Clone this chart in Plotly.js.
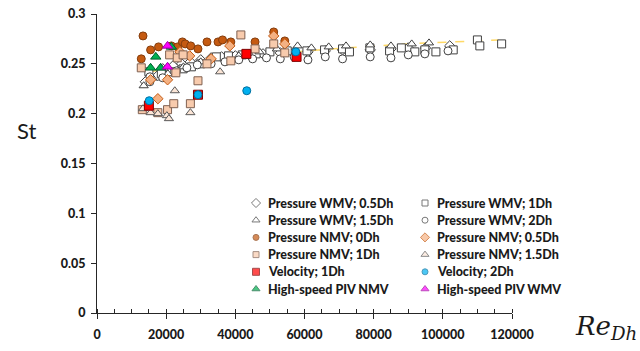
<!DOCTYPE html>
<html><head><meta charset="utf-8">
<script src="https://cdn.plot.ly/plotly-3.0.1.min.js"></script>
<style>html,body{margin:0;padding:0;background:#fff}#chart{width:640px;height:351px}</style>
</head><body><div id="chart"></div>
<script>
// ---- data ----
const wmv05Re = [14000,17500,19000,22000,24500,27000,30000,33000,36000,40000,44000,48000,53000,57000,61000,66000,71000,79000,85000,90000,95000,102000];
const wmv05St = [0.232,0.238,0.245,0.248,0.250,0.252,0.254,0.256,0.257,0.258,0.259,0.260,0.261,0.262,0.262,0.263,0.264,0.264,0.265,0.266,0.266,0.268];
const wmv1Re = [15000,18600,22500,24900,27300,30000,34500,38000,42000,46000,50000,55000,60700,65800,71000,73000,78900,84600,88000,91900,94800,98000,103000,110000,110700,117000];
const wmv1St = [0.242,0.240,0.242,0.245,0.247,0.250,0.257,0.258,0.259,0.260,0.262,0.263,0.263,0.264,0.265,0.262,0.266,0.263,0.266,0.262,0.264,0.262,0.264,0.274,0.268,0.270];
const wmv15Re = [13500,16000,20500,25000,30000,41000,47000,52000,58000,62000,67000,72000,79000,85000,91000,96000];
const wmv15St = [0.228,0.236,0.240,0.247,0.252,0.258,0.262,0.265,0.268,0.266,0.267,0.268,0.269,0.268,0.270,0.271];
const wmv2Re = [15300,15300,19000,23000,26000,29000,33000,37000,41000,45000,49000,53000,57000,61000,66000,71000,79000,85000,90000,94800,101500];
const wmv2St = [0.237,0.232,0.236,0.243,0.246,0.249,0.250,0.252,0.254,0.255,0.256,0.255,0.257,0.254,0.257,0.255,0.257,0.256,0.259,0.260,0.263];
const nmv0Re = [12800,13300,15500,17800,21500,23300,24700,25500,27100,29200,31800,35000,36300,38700,45700,51100,54300];
const nmv0St = [0.255,0.278,0.264,0.267,0.268,0.267,0.272,0.270,0.268,0.265,0.272,0.272,0.274,0.272,0.272,0.282,0.273];
const nmv05Re = [15500,20400,17600,26800,38400,51100,54300,24000,33000];
const nmv05St = [0.234,0.234,0.215,0.258,0.268,0.278,0.270,0.262,0.255];
const nmv1Re = [12800,13100,17600,20400,21000,22200,22800,23200,24900,27000,29200,31800,38700,41600,45700,51100,54300];
const nmv1St = [0.246,0.204,0.201,0.204,0.259,0.210,0.241,0.256,0.259,0.210,0.233,0.250,0.253,0.279,0.265,0.270,0.261];
const nmv15Re = [13300,15500,17600,20200,20800,22500,27000,35600];
const nmv15St = [0.205,0.201,0.200,0.198,0.195,0.223,0.201,0.242];
const vel1Re = [15000,29200,43200,57700];
const vel1St = [0.208,0.219,0.260,0.257];
const vel2Re = [15100,29200,43300,57500];
const vel2St = [0.213,0.219,0.223,0.262];
const pivNRe = [15500,17000,18400,21500];
const pivNSt = [0.246,0.257,0.246,0.267];
const pivWRe = [20400,20400];
const pivWSt = [0.268,0.247];
const fitRe = [15700,25000,40000,55000,64000,77000,90000,103000,116000];
const fitSt = [0.242,0.249,0.256,0.261,0.264,0.267,0.270,0.272,0.274];
const seriesNames = ['Pressure WMV; 0.5Dh','Pressure WMV; 1Dh','Pressure WMV; 1.5Dh','Pressure WMV; 2Dh',
  'Pressure NMV; 0Dh','Pressure NMV; 0.5Dh','Pressure NMV; 1Dh','Pressure NMV; 1.5Dh',
  'Velocity; 1Dh','Velocity; 2Dh','High-speed PIV NMV','High-speed PIV WMV'];
const xTicks = [0,20000,40000,60000,80000,100000,120000];
const xTickText = ['0','20000','40000','60000','80000','100000','120000'];
const yTicks = [0,0.05,0.1,0.15,0.2,0.25,0.3];
const yTickText = ['0','0.05','0.1','0.15','0.2','0.25','0.3'];

// ---- styles ----
const gray = '#404040';
const styles = [
  {symbol:'diamond', fill:'#ffffff', line:gray, size:8, lsize:7},
  {symbol:'square', fill:'#ffffff', line:gray, size:8, lsize:6},
  {symbol:'triangle-up', fill:'#ffffff', line:gray, size:8, lsize:7},
  {symbol:'circle', fill:'#ffffff', line:gray, size:8, lsize:6},
  {symbol:'circle', fill:'#c55a11', line:'#843c0c', size:8, lsize:6},
  {symbol:'diamond', fill:'#f4b183', line:'#c55a11', size:8, lsize:7},
  {symbol:'square', fill:'#f8cbad', line:'#7f6050', size:8, lsize:6},
  {symbol:'triangle-up', fill:'#fbe5d6', line:'#595959', size:8, lsize:7},
  {symbol:'square', fill:'#ff0000', line:'#7f0000', size:9, lsize:7},
  {symbol:'circle', fill:'#00b0f0', line:'#0070a0', size:8, lsize:6},
  {symbol:'triangle-up', fill:'#00b050', line:'#006030', size:9, lsize:7},
  {symbol:'triangle-up', fill:'#ff00ff', line:'#a000a0', size:9, lsize:7}
];
const seriesX = [wmv05Re, wmv1Re, wmv15Re, wmv2Re, nmv0Re, nmv05Re, nmv1Re, nmv15Re, vel1Re, vel2Re, pivNRe, pivWRe];
const seriesY = [wmv05St, wmv1St, wmv15St, wmv2St, nmv0St, nmv05St, nmv1St, nmv15St, vel1St, vel2St, pivNSt, pivWSt];

const data = [
  {type:'scatter', mode:'lines', x:fitRe, y:fitSt, showlegend:false, hoverinfo:'skip',
   line:{color:'#ffd966', width:1.5, dash:'dash', shape:'spline'}}
];
seriesNames.forEach(function(n, i){
  const s = styles[i];
  data.push({type:'scatter', mode:'markers', name:n, x:seriesX[i], y:seriesY[i], showlegend:false,
    marker:{symbol:s.symbol, size:s.size, color:s.fill, line:{color:s.line, width:1}}});
});

// ---- custom legend (two columns, row-wise order) ----
const PL = 97, PW = 415, PB = 313, PH = 299;
const colMarker = [256, 425], colText = [266, 435], row0 = 203, rowStep = 17.2;
const lgX = [], lgY = [];
const annotations = [];
const font = 'Lato, "Open Sans", sans-serif';
seriesNames.forEach(function(n, i){
  const c = i % 2, r = Math.floor(i / 2);
  const py = row0 + r * rowStep;
  lgX.push((colMarker[c] - PL) / PW);
  lgY.push((PB - py) / PH);
  annotations.push({text:n, xref:'paper', yref:'paper', x:(colText[c] - PL) / PW, y:(PB - py) / PH,
    xanchor:'left', yanchor:'middle', showarrow:false,
    font:{family:font, size:12.5, color:'#1a1a1a', weight:900}});
});
data.push({type:'scatter', mode:'markers', xaxis:'x2', yaxis:'y2', x:lgX, y:lgY, showlegend:false, hoverinfo:'skip',
  marker:{symbol:styles.map(s=>s.symbol), size:styles.map(s=>s.lsize), color:styles.map(s=>s.fill),
    line:{color:styles.map(s=>s.line), width:1}}, cliponaxis:false});

annotations.push({text:'St', xref:'paper', yref:'paper', x:-0.171, y:0.612, xanchor:'center', yanchor:'middle', showarrow:false,
  font:{family:font, size:22, color:'#1a1a1a'}});
annotations.push({text:'<i>Re</i><sub><i>Dh</i></sub>', xref:'paper', yref:'paper', x:1.148, y:-0.05, xanchor:'left', yanchor:'middle', showarrow:false,
  font:{family:'"DejaVu Serif", serif', size:26, color:'#1a1a1a'}});

const tickFont = {family:font, size:12.5, color:'#1a1a1a', weight:900};
const layout = {
  width:640, height:351,
  margin:{l:97, r:128, t:14, b:38},
  paper_bgcolor:'#ffffff', plot_bgcolor:'#ffffff',
  showlegend:false,
  xaxis:{range:[0,120000], tickvals:xTicks, ticktext:xTickText, showgrid:false, zeroline:false,
    showline:true, linecolor:'#262626', linewidth:1, ticks:'outside', ticklen:5, tickcolor:'#262626',
    tickfont:tickFont, ticklabelstandoff:5, fixedrange:true,
    minor:{dtick:5000, ticks:'inside', ticklen:4, tickcolor:'#262626', showgrid:false}},
  yaxis:{range:[0,0.3], tickvals:yTicks, ticktext:yTickText, showgrid:false, zeroline:false,
    showline:true, linecolor:'#262626', linewidth:1, ticks:'outside', ticklen:5, tickcolor:'#262626',
    tickfont:tickFont, ticklabelstandoff:3, fixedrange:true},
  xaxis2:{range:[0,1], overlaying:'x', visible:false, fixedrange:true},
  yaxis2:{range:[0,1], overlaying:'y', visible:false, fixedrange:true},
  annotations:annotations
};
Plotly.newPlot('chart', data, layout, {displayModeBar:false, staticPlot:true});
</script></body></html>
